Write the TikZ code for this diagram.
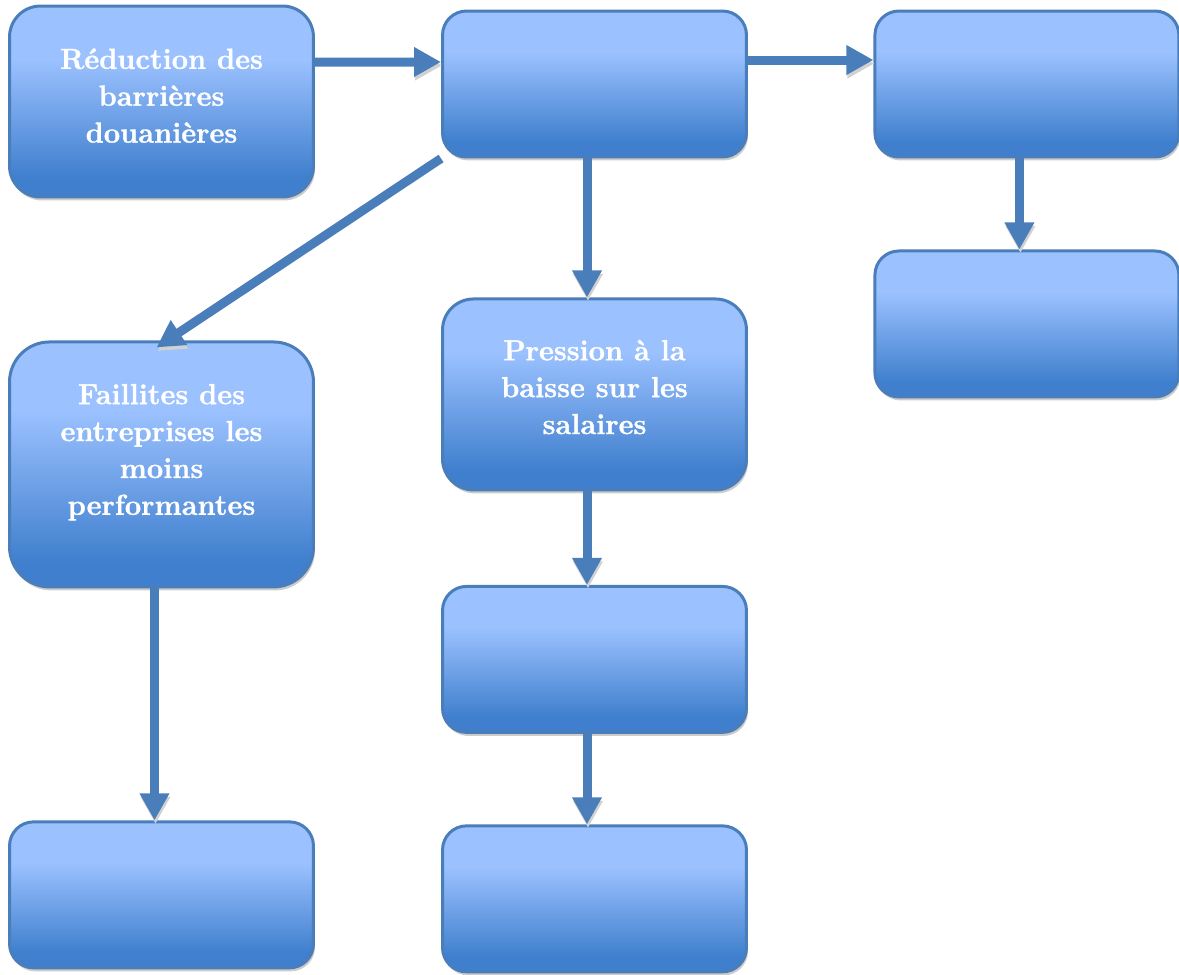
\documentclass[tikz,border=0pt]{standalone}
\usepackage{fontspec}
\setmainfont{Latin Modern Roman}[BoldFeatures={FakeBold=1.2}]
\usetikzlibrary{shapes,arrows.meta,positioning,shadows}
\definecolor{boxtop}{RGB}{155,193,255}
\definecolor{boxbot}{RGB}{63,127,205}
\definecolor{boxline}{RGB}{74,126,187}
\pgfdeclareverticalshading{boxshade}{100bp}{color(0bp)=(boxbot); color(30bp)=(boxbot); color(61bp)=(boxtop); color(100bp)=(boxtop)}
\tikzset{box/.style={rectangle,draw=boxline,line width=0.06cm,rounded corners=0.48cm,shading=boxshade,minimum width=6.08cm,minimum height=2.92cm,text=white,align=center,font=\fontsize{16.5}{21}\selectfont\bfseries,drop shadow={shadow xshift=0.03cm,shadow yshift=-0.07cm,fill=black!20,opacity=1}}}
\tikzset{tallbox/.style={box,minimum height=3.82cm,rounded corners=0.62cm}}
\tikzset{hugebox/.style={box,minimum height=4.9cm,rounded corners=0.8cm}}
\tikzset{flow/.style={draw=boxline,line width=0.18cm,-{Triangle[width=0.56cm,length=0.54cm]},preaction={draw=black!18,transform canvas={shift={(0.02cm,-0.07cm)}}}}}

\begin{document}
\begin{tikzpicture}[x=0.02cm,y=-0.02cm,node distance=8.65cm]
    \useasboundingbox (0,0) rectangle (1179,974);

    \node[tallbox,text depth=0.24cm] (reduction) at (161.5,101.5) {Réduction des\\barrières\\douanières};
    \node[box] (mid) at (594.5,84) {};
    \node[box,right of=mid] (right) {};
    \node[box,below of=right,node distance=4.8cm] (rightlow) {};

    \node[tallbox,below of=mid,node distance=6.21cm,text depth=0.3cm] (pression) {Pression à la\\baisse sur les\\salaires};
    \node[box,below of=pression,node distance=5.3cm] (pdown1) {};
    \node[box,below of=pdown1,node distance=4.79cm] (pdown2) {};

    \node[hugebox,below of=reduction,node distance=7.26cm,text depth=0.6cm] (faillites) {Faillites des\\entreprises les\\moins\\performantes};
    \node[box,below of=faillites,node distance=8.61cm] (fdown) {};

        \path[flow] ([yshift=0.79cm]reduction.east) -- ([yshift=0.44cm]mid.west);
        \path[flow] ([yshift=0.48cm]mid.east) -- ([yshift=0.48cm]right.west);
        \path[flow] ([xshift=-0.15cm]right.south) -- ([xshift=-0.15cm]rightlow.north);
        \path[flow] ([xshift=-0.15cm]mid.south) -- ([xshift=-0.15cm]pression.north);
        \path[flow] (mid.south west) -- ([xshift=-0.1cm,yshift=-0.14cm]faillites.north);
        \path[flow] ([xshift=-0.15cm]pression.south) -- ([xshift=-0.15cm]pdown1.north);
        \path[flow] ([xshift=-0.15cm]pdown1.south) -- ([xshift=-0.15cm]pdown2.north);
        \path[flow] ([xshift=-0.14cm]faillites.south) -- ([xshift=-0.14cm]fdown.north);
\end{tikzpicture}
\end{document}
